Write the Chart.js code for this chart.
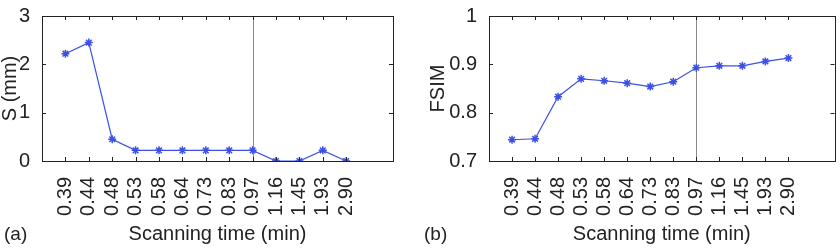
<!DOCTYPE html>
<html>
<head>
<meta charset="utf-8">
<script src="https://cdn.jsdelivr.net/npm/chart.js@4.4.1/dist/chart.umd.min.js"></script>
<style>
  html, body { margin: 0; padding: 0; background: #fff; }
  #wrap { position: relative; width: 840px; height: 248px; }
  .box { position: absolute; top: 0; width: 420px; height: 248px; }
</style>
</head>
<body>
<div id="wrap">
  <div class="box" style="left:0"><canvas id="grafA"></canvas></div>
  <div class="box" style="left:420px"><canvas id="grafB"></canvas></div>
</div>
<script>
// datos
const tiempos = ['0.39', '0.44', '0.48', '0.53', '0.58', '0.64', '0.73', '0.83', '0.97', '1.16', '1.45', '1.93', '2.90'];
const valoresS = [2.22, 2.45, 0.45, 0.22, 0.22, 0.22, 0.22, 0.22, 0.22, 0, 0, 0.22, 0];
const valoresFSIM = [0.744, 0.746, 0.833, 0.870, 0.866, 0.861, 0.854, 0.864, 0.893, 0.897, 0.897, 0.906, 0.913];
const ticksS = [0, 1, 2, 3];
const ticksFSIM = [0.7, 0.8, 0.9, 1];
const indiceLinea = 9; // linea vertical en 0.97

const azul = '#3d50e6';
const fuente = "'Liberation Sans', Arial, sans-serif";

// marco, marcas hacia dentro, linea vertical y etiqueta (a)/(b)
const marcoPlugin = {
  id: 'marco',
  beforeDatasetsDraw(chart) {
    const { ctx, chartArea: a, scales } = chart;
    ctx.save();
    const xl = scales.x.getPixelForValue(indiceLinea);
    ctx.strokeStyle = '#8a8a8a';
    ctx.lineWidth = 1;
    ctx.beginPath();
    ctx.moveTo(Math.round(xl) + 0.5, a.top);
    ctx.lineTo(Math.round(xl) + 0.5, a.bottom);
    ctx.stroke();
    ctx.restore();
  },
  afterDraw(chart, args, opts) {
    const { ctx, chartArea: a, scales } = chart;
    ctx.save();
    ctx.strokeStyle = '#222';
    ctx.lineWidth = 1;
    ctx.strokeRect(Math.round(a.left) + 0.5, Math.round(a.top) + 0.5, Math.round(a.right - a.left), Math.round(a.bottom - a.top));
    ctx.beginPath();
    for (let i = 1; i <= tiempos.length; i++) {
      const x = Math.round(scales.x.getPixelForValue(i)) + 0.5;
      ctx.moveTo(x, a.bottom); ctx.lineTo(x, a.bottom - 4);
      ctx.moveTo(x, a.top); ctx.lineTo(x, a.top + 4);
    }
    scales.y.ticks.forEach(t => {
      const y = Math.round(scales.y.getPixelForValue(t.value)) + 0.5;
      ctx.moveTo(a.left, y); ctx.lineTo(a.left + 4, y);
      ctx.moveTo(a.right, y); ctx.lineTo(a.right - 4, y);
    });
    ctx.stroke();
    ctx.fillStyle = '#222';
    ctx.font = '19px ' + fuente;
    ctx.textBaseline = 'middle';
    ctx.fillText(opts.letra, opts.xLetra, 235);
    ctx.restore();
  }
};

function crearGrafica(id, valores, yTicks, yMin, yMax, titulo, cfg) {
  const ctx = document.getElementById(id).getContext('2d');
  return new Chart(ctx, {
    type: 'line',
    data: {
      datasets: [{
        data: valores.map((v, i) => ({ x: i + 1, y: v })),
        borderColor: azul,
        backgroundColor: azul,
        borderWidth: 1.2,
        pointStyle: 'star',
        pointRadius: 4,
        pointBorderWidth: 1.5,
        tension: 0
      }]
    },
    options: {
      responsive: false,
      animation: false,
      devicePixelRatio: 1,
      layout: { padding: { left: 0, right: cfg.derecha, top: 10, bottom: 0 } },
      plugins: {
        legend: { display: false },
        tooltip: { enabled: false },
        marco: { letra: cfg.letra, xLetra: cfg.xLetra }
      },
      scales: {
        x: {
          type: 'linear',
          min: 0,
          max: 15,
          afterBuildTicks: s => { s.ticks = tiempos.map((t, i) => ({ value: i + 1 })); },
          afterFit: s => { s.height = 87; },
          grid: { display: false },
          border: { display: false },
          ticks: {
            callback: v => tiempos[v - 1],
            autoSkip: false,
            minRotation: 90,
            maxRotation: 90,
            padding: 8,
            color: '#222',
            font: { family: fuente, size: 20 }
          },
          title: {
            display: true,
            text: 'Scanning time (min)',
            color: '#222',
            padding: { top: 2, bottom: 2 },
            font: { family: fuente, size: 20 }
          }
        },
        y: {
          min: yMin,
          max: yMax,
          afterBuildTicks: s => { s.ticks = yTicks.map(v => ({ value: v })); },
          afterFit: s => { s.width = cfg.anchoY; },
          grid: { display: false },
          border: { display: false },
          ticks: {
            padding: 4,
            color: '#222',
            font: { family: fuente, size: 20 },
            callback: v => String(v)
          },
          title: {
            display: true,
            text: titulo,
            color: '#222',
            padding: { top: cfg.padTitulo, bottom: 0 },
            font: { family: fuente, size: 20 }
          }
        }
      }
    },
    plugins: [marcoPlugin]
  });
}

for (const id of ['grafA', 'grafB']) {
  const c = document.getElementById(id);
  c.width = 420; c.height = 248;
}

crearGrafica('grafA', valoresS, ticksS, 0, 3, 'S (mm)', { derecha: 27, anchoY: 42, padTitulo: -2, letra: '(a)', xLetra: 4 });
crearGrafica('grafB', valoresFSIM, ticksFSIM, 0.7, 1, 'FSIM', { derecha: 2, anchoY: 69, padTitulo: 6, letra: '(b)', xLetra: 4 });
</script>
</body>
</html>
